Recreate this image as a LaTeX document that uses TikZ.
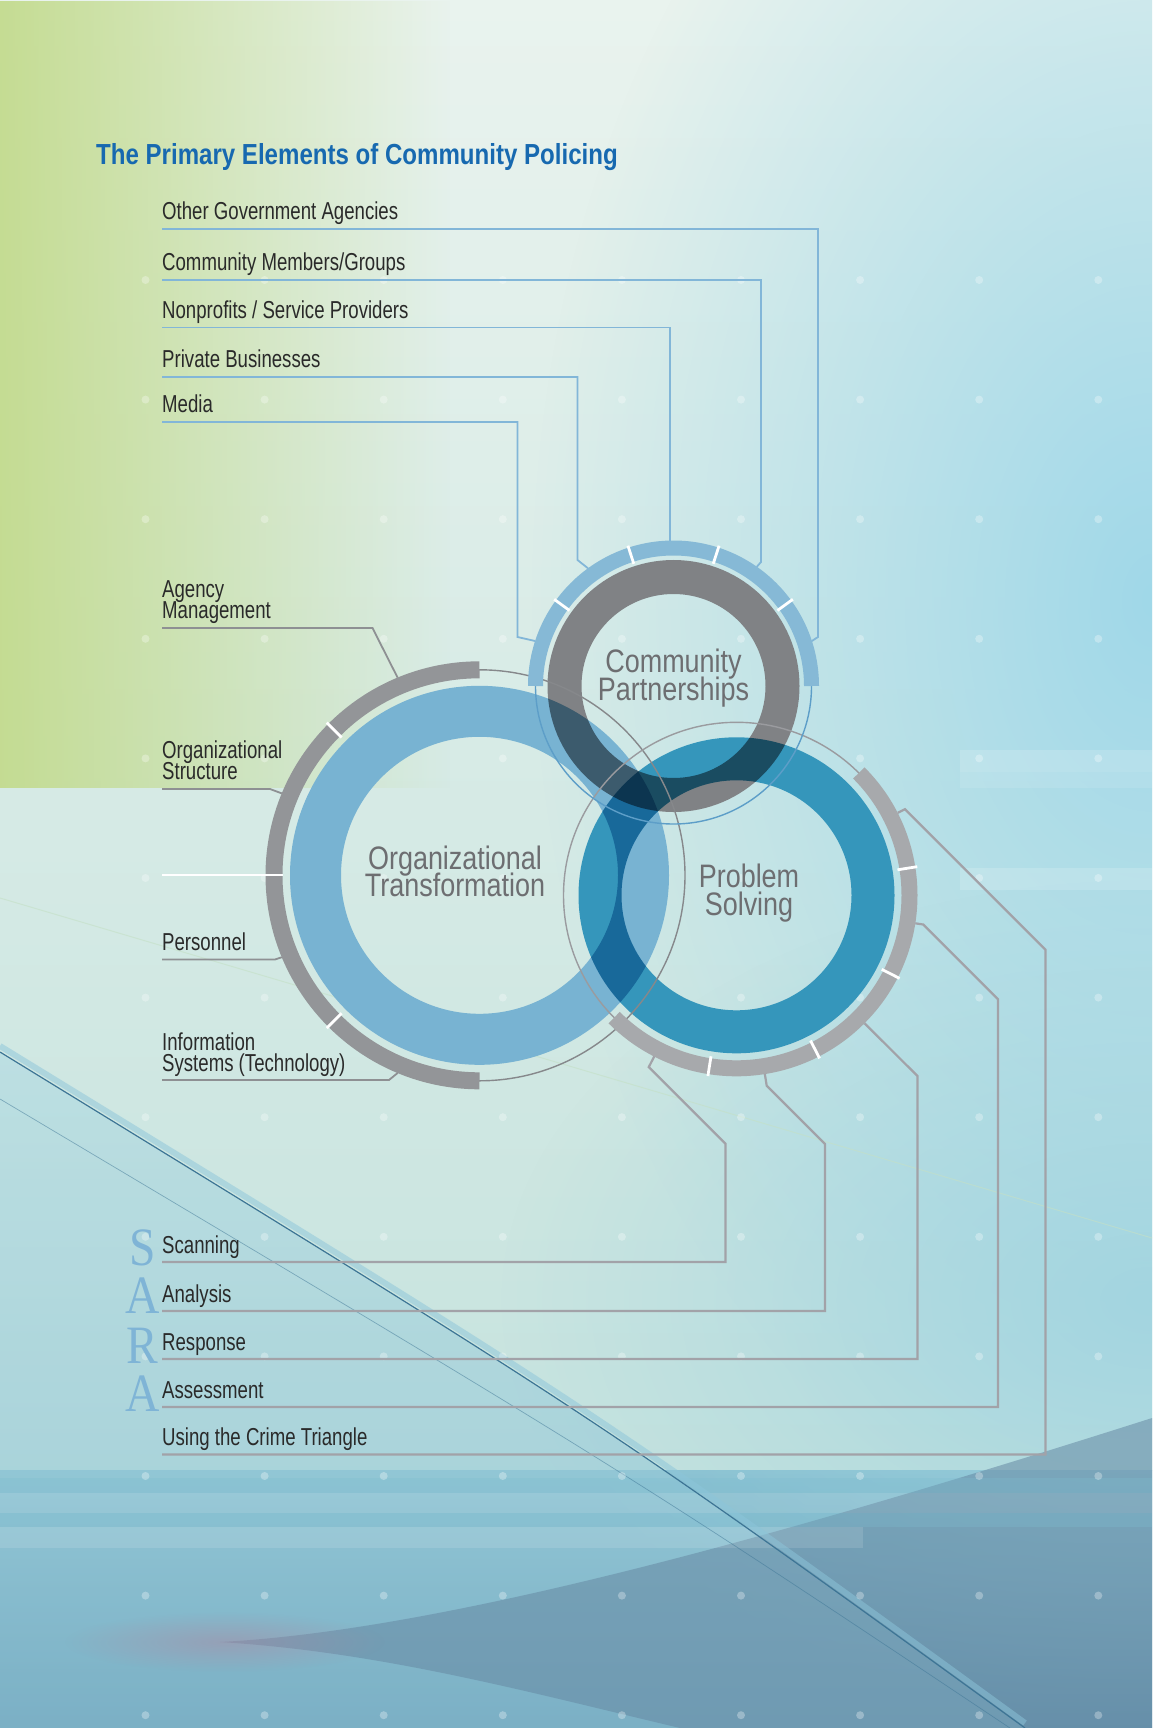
\documentclass[tikz,border=0pt]{standalone}
\usepackage{fontspec}
\setmainfont{Liberation Sans}
\newfontfamily\lblfont{Liberation Sans}[FakeStretch=0.76]
\newfontfamily\ctrfont{Liberation Sans}[FakeStretch=0.83]
\newfontfamily\ttlfont{Liberation Sans}[FakeStretch=0.83]
\newfontfamily\sarafont{Liberation Serif}[FakeStretch=0.88]
\usetikzlibrary{fadings}
\tikzfading[name=radfade, inner color=transparent!0, outer color=transparent!100]

\definecolor{bgtop}{HTML}{E9F3EE}
\definecolor{bgmid}{HTML}{E7F1E3}
\definecolor{bgbot}{HTML}{C6E3DE}
\definecolor{bglowtop}{HTML}{8AC1D1}
\definecolor{bglowbot}{HTML}{6898B2}
\definecolor{greenov}{HTML}{C3DB8E}
\definecolor{cyanov}{HTML}{A0D8E9}
\definecolor{cyanlow}{HTML}{9CD2E0}
\definecolor{bluetop}{HTML}{B0DAE2}
\definecolor{bluebot}{HTML}{88C0D2}
\definecolor{darkov}{HTML}{6689A3}
\definecolor{glowclr}{HTML}{A98AA4}
\definecolor{bandclr}{HTML}{7DBDD0}
\definecolor{streakglow}{HTML}{8CC5DA}
\definecolor{streakdark}{HTML}{3D7595}
\definecolor{faintln}{HTML}{C4E0C6}

\definecolor{ttlblue}{HTML}{1769B0}
\definecolor{lbltxt}{HTML}{2A2A2A}
\definecolor{ctrtxt}{HTML}{6D6E71}
\definecolor{cpgray}{HTML}{808285}
\definecolor{otblue}{HTML}{78B3D2}
\definecolor{psblue}{HTML}{3596BB}
\definecolor{otarc}{HTML}{939598}
\definecolor{psarc}{HTML}{A7A9AC}
\definecolor{cparc}{HTML}{86B9D6}
\definecolor{cpthin}{HTML}{5D9EC8}
\definecolor{otthin}{HTML}{86888B}
\definecolor{psthin}{HTML}{9A9B9F}
\definecolor{cpconn}{HTML}{82B6D8}
\definecolor{otconn}{HTML}{8E9093}
\definecolor{psconn}{HTML}{A2A2A8}
\definecolor{saraclr}{HTML}{7FB4D6}

\newcommand\twoln[2]{\vbox{\baselineskip=21pt\lineskiplimit=-100pt\hbox{#1}\hbox{#2}}}
\newcommand\ctwoln[2]{\vbox{\baselineskip=27.5pt\lineskiplimit=-100pt\halign{\hfil##\hfil\cr#1\cr#2\cr}}}

\tikzset{
  lbl/.style={anchor=base west, inner sep=0pt, text=lbltxt, font=\lblfont\fontsize{24.5}{21}\selectfont},
  ctr/.style={anchor=base, inner sep=0pt, text=ctrtxt, font=\ctrfont\fontsize{32.5}{27}\selectfont},
  saraltr/.style={anchor=base, inner sep=0pt, text=saraclr, font=\sarafont\fontsize{54}{54}\selectfont},
  cpline/.style={draw=cpconn, line width=1.8pt},
  otline/.style={draw=otconn, line width=1.8pt},
  psline/.style={draw=psconn, line width=2.2pt},
  gapline/.style={draw=white, line width=2.8pt},
}

\begin{document}
\begin{tikzpicture}[x=1pt, y=-1pt]
\useasboundingbox (0,0) rectangle (1152,1728);

% ---------------- background ----------------
\begin{scope}
\clip (0,0) rectangle (1152,1728);
\shade[top color=bgtop, middle color=bgmid, bottom color=bgbot] (0,0) rectangle (1152,1470);
\shade[top color=bglowtop, bottom color=bglowbot] (0,1470) rectangle (1152,1728);
\fill[greenov, opacity=0.95, path fading=east] (0,0) rectangle (450,788);
\fill[cyanov, path fading=radfade] (1152,600) ellipse [x radius=620, y radius=950];
\fill[cyanlow, path fading=radfade, opacity=0.8] (1152,1300) ellipse [x radius=650, y radius=420];
\fill[white, opacity=0.16] (960,750) rectangle (1152,772);
\fill[white, opacity=0.10] (960,772) rectangle (1152,788);
\fill[white, opacity=0.16] (960,868) rectangle (1152,890);
\draw[faintln, line width=1pt, opacity=0.6] (0,898) -- (1152,1238);
\shade[top color=bluetop, bottom color=bluebot, opacity=0.6]
   (0,1052) .. controls (600,1420) .. (1025,1728) -- (0,1728) -- cycle;
\fill[darkov, opacity=0.55] (220,1642) .. controls (450,1630) and (800,1530) .. (1152,1418)
   -- (1152,1728) -- (680,1728) .. controls (520,1690) and (380,1652) .. (220,1642) -- cycle;
\fill[glowclr, path fading=radfade, opacity=0.5] (225,1642) ellipse [x radius=160, y radius=30];
\fill[bandclr, opacity=0.3] (0,1478) rectangle (1152,1493);
\fill[white, opacity=0.08] (0,1493) rectangle (1152,1513);
\fill[bandclr, opacity=0.3] (0,1513) rectangle (1152,1527);
\fill[white, opacity=0.12] (0,1527) rectangle (863,1548);
\draw[streakglow, line width=6pt, opacity=0.5] (0,1046) .. controls (600,1414) .. (1025,1723);
\draw[streakdark, line width=1.2pt] (0,1052) .. controls (600,1420) .. (1025,1728);
\draw[streakdark, line width=0.7pt, opacity=0.5] (0,1099) .. controls (620,1468) .. (1010,1728);
\foreach \i in {0,...,8} \foreach \j in {0,...,12}
  \fill[white, opacity=0.3] (145.5+119.1*\i, 280+119.6*\j) circle[radius=4];
\end{scope}

% ---------------- centres ----------------
\coordinate (otc) at (479.5,875.3);
\coordinate (psc) at (736.5,895.3);
\coordinate (cpc) at (673.5,686);

% ---------------- rings ----------------
\begin{scope}[transparency group=isolated]
\begin{scope}[blend mode=multiply]
\draw[otblue, line width=51pt] (otc) circle[radius=164];
\draw[psblue, line width=43pt] (psc) circle[radius=136.5];
\draw[cpgray, line width=34pt] (cpc) circle[radius=109];
\end{scope}
\end{scope}

% thin circles
\draw[otthin, line width=1.4pt] (otc) circle[radius=205.5];
\draw[psthin, line width=1.4pt] (psc) circle[radius=173];
\draw[cpthin, line width=1.4pt] (cpc) circle[radius=138];

% segmented arcs
\draw[otarc, line width=17pt] (otc) ++(-90:205.5) arc[start angle=-90, end angle=-270, radius=205.5];
\draw[psarc, line width=16pt] (psc) ++(-45:173) arc[start angle=-45, end angle=135, radius=173];
\draw[cparc, line width=15pt] (cpc) ++(0:138) arc[start angle=0, end angle=-180, radius=138];

\foreach \a in {-135,-225} \draw[gapline] (otc) ++(\a:195) -- ++(\a:21);
\foreach \a in {-9,27,63,99} \draw[gapline] (psc) ++(\a:163) -- ++(\a:20);
\foreach \a in {-36,-72,-108,-144} \draw[gapline] (cpc) ++(\a:128.5) -- ++(\a:19);

% arc anchor points
\coordinate (cpA) at (811.9,641.0);
\coordinate (cpB) at (756.8,566.8);
\coordinate (cpC) at (670,540.5);
\coordinate (cpD) at (588.0,568.3);
\coordinate (cpE) at (535.1,641.0);
\coordinate (otA) at (397.6,677.6);
\coordinate (otB) at (281.8,793.4);
\coordinate (otC) at (281.8,957.2);
\coordinate (otD) at (397.6,1073.0);
\coordinate (psA) at (654.3,1056.3);
\coordinate (psB) at (764.8,1073.8);
\coordinate (psC) at (864.5,1023.3);
\coordinate (psD) at (915.3,923.3);
\coordinate (psE) at (897.8,812.8);
\coordinate (sepL) at (162,875.3);
\coordinate (sepR) at (282.5,875.3);

% ---------------- title ----------------
\node[anchor=base west, inner sep=0pt, text=ttlblue, font=\ttlfont\bfseries\fontsize{29}{29}\selectfont]
  (title) at (96,165) {The Primary Elements of Community Policing};

% ---------------- labels ----------------
\node[lbl] (oga) at (162,219.5) {Other Government Agencies};
\node[lbl] (cmg) at (162,270.5) {Community Members/Groups};
\node[lbl] (nsp) at (162,318) {Nonprofits / Service Providers};
\node[lbl] (pbz) at (162,367.5) {Private Businesses};
\node[lbl] (med) at (162,412.5) {Media};

\node[lbl] (agm) at (162,618.5) {\twoln{Agency}{Management}};
\node[lbl] (ors) at (162,779.5) {\twoln{Organizational}{Structure}};
\node[lbl] (per) at (162,950.5) {Personnel};
\node[lbl] (inf) at (162,1071) {\twoln{Information}{Systems (Technology)}};

\node[lbl] (scn) at (162,1253) {Scanning};
\node[lbl] (ana) at (162,1302) {Analysis};
\node[lbl] (rsp) at (162,1350) {Response};
\node[lbl] (ass) at (162,1398) {Assessment};
\node[lbl] (cti) at (162,1445.5) {Using the Crime Triangle};

\node[saraltr] (s1) at (142.5,1265) {S};
\node[saraltr] (s2) at (142.5,1313) {A};
\node[saraltr] (s3) at (142.5,1363) {R};
\node[saraltr] (s4) at (142.5,1411) {A};

\node[ctr] (cpt) at (673.5,700) {\ctwoln{Community}{Partnerships}};
\node[ctr] (ott) at (455,896.5) {\ctwoln{Organizational}{Transformation}};
\node[ctr] (pst) at (749,915) {\ctwoln{Problem}{Solving}};

% ---------------- connectors ----------------
\draw[cpline] ([yshift=-9.5pt]oga.base west) -| (818,637) -- (cpA);
\draw[cpline] ([yshift=-9.5pt]cmg.base west) -| (761,562) -- (cpB);
\draw[cpline] ([yshift=-9.5pt]nsp.base west) -| (cpC);
\draw[cpline] ([yshift=-9.5pt]pbz.base west) -| (577.5,560) -- (cpD);
\draw[cpline] ([yshift=-9.5pt]med.base west) -| (517.5,637) -- (cpE);

\draw[otline] ([yshift=-9.5pt]agm.base west) -- (372.5,628) -- (otA);
\draw[otline] ([yshift=-9.5pt]ors.base west) -- (270,789) -- (otB);
\draw[otline] ([yshift=-9pt]per.base west) -- (275,959.5) -- (otC);
\draw[otline] ([yshift=-9pt]inf.base west) -- (389,1080) -- (otD);
\draw[gapline, line width=2.2pt] (sepL) -- (sepR);

\draw[psline] ([yshift=-9pt]scn.base west) -| (725.5,1143.7) -- (648.8,1067) -- (psA);
\draw[psline] ([yshift=-9pt]ana.base west) -| (825,1144) -- (766.7,1085.7) -- (psB);
\draw[psline] ([yshift=-9pt]rsp.base west) -| (917.5,1076) -- (psC);
\draw[psline] ([yshift=-9pt]ass.base west) -| (998,999.3) -- (923.2,924.5) -- (psD);
\draw[psline] ([yshift=-9pt]cti.base west) -| (1045.5,949.8) -- (904.9,809.2) -- (psE);
\end{tikzpicture}
\end{document}
